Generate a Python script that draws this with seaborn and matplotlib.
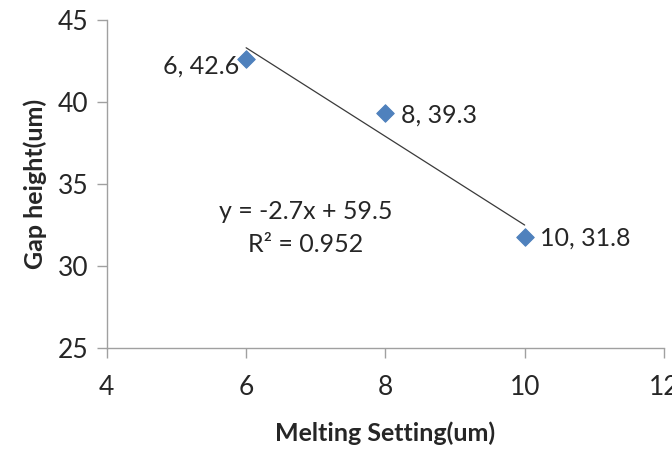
import numpy as np
import pandas as pd
import matplotlib
matplotlib.use("Agg")
import matplotlib.pyplot as plt
import seaborn as sns

melting = [6, 8, 10]
gap = [42.6, 39.3, 31.8]
x_ticks = [4, 6, 8, 10, 12]
y_ticks = [25, 30, 35, 40, 45]

sns.set_style("white")
plt.rcParams['font.family'] = ['Lato', 'DejaVu Sans']

df = pd.DataFrame({"Melting Setting(um)": melting, "Gap height(um)": gap})

fig = plt.figure(figsize=(6.72, 4.51), dpi=100)
ax = fig.add_axes([0.159, 0.228, 0.829, 0.728])

slope, intercept = np.polyfit(melting, gap, 1)
xs = np.array([min(melting), max(melting)])
ax.plot(xs, slope * xs + intercept, color="#3a3a3a", lw=0.9, zorder=2)

sns.scatterplot(data=df, x="Melting Setting(um)", y="Gap height(um)", marker="D",
                s=80, color="#4F81BD", edgecolor="#4F81BD", ax=ax, zorder=3)

fs = 18
for i, (xv, yv) in enumerate(zip(melting, gap)):
    lab = f"{xv}, {yv}"
    if i == 0:
        ax.annotate(lab, (xv, yv), xytext=(-5, -5), textcoords="offset points",
                    ha="right", va="center", fontsize=fs)
    else:
        ax.annotate(lab, (xv, yv), xytext=(11, -1), textcoords="offset points",
                    ha="left", va="center", fontsize=fs)

r2 = np.corrcoef(melting, gap)[0, 1] ** 2
ax.text(6.85, 33.3, f"y = {slope:.1f}x + {intercept:.1f}", ha="center", va="center", fontsize=fs)
ax.text(6.85, 31.3, f"R² = {r2:.3f}", ha="center", va="center", fontsize=fs)

ax.set_xlim(4, 12)
ax.set_ylim(25, 45)
ax.set_xticks(x_ticks)
ax.set_yticks(y_ticks)
ax.tick_params(axis="both", labelsize=19, length=7, width=1, color="#a0a0a0",
               direction="out", left=True, bottom=True)
ax.tick_params(axis="x", pad=12)
ax.tick_params(axis="y", pad=6)
for s in ["top", "right"]:
    ax.spines[s].set_visible(False)
for s in ["left", "bottom"]:
    ax.spines[s].set_color("#a0a0a0")
    ax.spines[s].set_linewidth(1)
ax.set_xlabel("Melting Setting(um)", fontsize=18, fontweight="bold", labelpad=16)
ax.set_ylabel("Gap height(um)", fontsize=18, fontweight="bold", labelpad=8)

fig.savefig("out.png", dpi=100)
